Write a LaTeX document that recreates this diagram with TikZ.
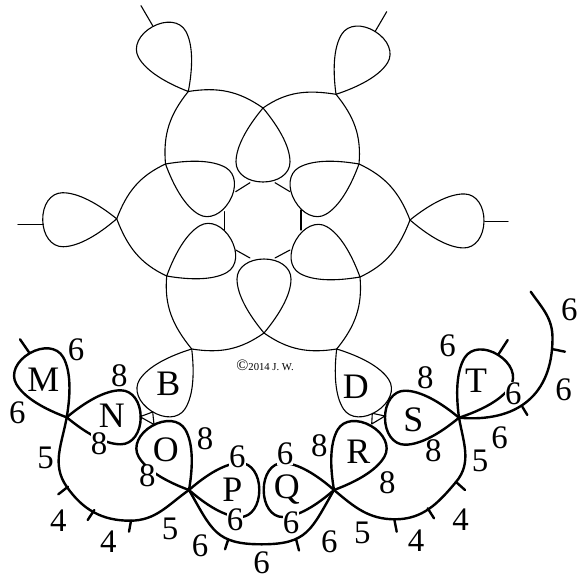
\documentclass[tikz,border=0pt]{standalone}
\usepackage{fontspec}
\setmainfont{Liberation Serif}
\newcommand{\ringdrop}[4][]{\draw[#2,shift={(#3)},rotate=#4,#1] (0,0) .. controls (18,15) and (38,27) .. (54,27)
  .. controls (66,27) and (74,15) .. (74,0) .. controls (74,-15) and (66,-27) .. (54,-27)
  .. controls (38,-27) and (18,-15) .. (0,0);}
\begin{document}
\begin{tikzpicture}[x=1bp,y=-1bp,line join=round,line cap=round]
\tikzstyle{fine}=[line width=1.1bp,black]
\tikzstyle{bold}=[line width=2.4bp,black]
\tikzstyle{letter}=[inner sep=0pt,font=\fontsize{36}{36}\selectfont]
\tikzstyle{num}=[inner sep=0pt,font=\fontsize{33}{33}\selectfont]
\tikzstyle{gapnum}=[num,fill=white]
\useasboundingbox (0,0) rectangle (585,578);

\coordinate (jtl) at (188.3,91.5);
\coordinate (jtr) at (336,94.3);
\coordinate (jl) at (116.7,218.8);
\coordinate (jr) at (410,220);
\coordinate (jbl) at (191.7,349);
\coordinate (jbr) at (336.7,349);
\coordinate (a1) at (263,108);
\coordinate (a2) at (165.5,164);
\coordinate (a3) at (166.7,276);
\coordinate (a4) at (264,333);
\coordinate (a5) at (360,277);
\coordinate (a6) at (359,164);
\coordinate (jm) at (66.7,417.3);
\coordinate (jo) at (189,490);
\coordinate (jr2) at (334,490);
\coordinate (jt) at (459,417.7);

\ringdrop{fine}{jtl}{119}
\ringdrop{fine}{jtr}{58}
\ringdrop{fine}{jl}{181}
\ringdrop{fine}{jr}{-1}
\ringdrop{fine}{a1}{-90}
\ringdrop{fine}{a2}{-30}
\ringdrop{fine}{a3}{30}
\ringdrop{fine}{a4}{90}
\ringdrop{fine}{a5}{150}
\ringdrop{fine}{a6}{210}
\ringdrop{fine}{jbl}{237}
\ringdrop{fine}{jbr}{303}

\draw[fine] (jl) to[out=69,in=205] (a2);
\draw[fine] (jl) to[out=-69,in=155] (a3);
\draw[fine] (jtl) to[out=9,in=145] (a1);
\draw[fine] (jtl) to[out=-129,in=95] (a2);
\draw[fine] (jtr) to[out=-51,in=85] (a6);
\draw[fine] (jtr) to[out=171,in=35] (a1);
\draw[fine] (jr) to[out=249,in=25] (a5);
\draw[fine] (jr) to[out=111,in=335] (a6);
\draw[fine] (jbr) to[out=189,in=325] (a4);
\draw[fine] (jbr) to[out=51,in=275] (a5);
\draw[fine] (jbl) to[out=129,in=265] (a3);
\draw[fine] (jbl) to[out=-9,in=215] (a4);

\coordinate (h1a) at (235.7,191.7);
\coordinate (h1b) at (250,182.7);
\coordinate (h2a) at (275,182.7);
\coordinate (h2b) at (290,191.7);
\coordinate (h3a) at (224.3,211.7);
\coordinate (h3b) at (224.3,230);
\coordinate (h4a) at (235.7,250);
\coordinate (h4b) at (250,258);
\coordinate (h5a) at (275,258);
\coordinate (h5b) at (290,250);
\coordinate (h6a) at (301,210);
\coordinate (h6b) at (301,230);
\foreach \h in {h1,h2,h3,h4,h5,h6}
  \draw[fine] (\h a)--(\h b);

\coordinate (tl1) at (141,5.7);
\coordinate (tl2) at (152.7,25.7);
\coordinate (tr1) at (386.7,11.7);
\coordinate (tr2) at (375,31.7);
\coordinate (tw1) at (18,224.5);
\coordinate (tw2) at (43.3,224.5);
\coordinate (te1) at (485,221.7);
\coordinate (te2) at (508,221.7);
\foreach \h in {tl,tr,tw,te}
  \draw[fine] (\h 1)--(\h 2);

\coordinate (bt1) at (140,416.7);
\coordinate (bt2) at (152.7,412);
\coordinate (bt3) at (154,424.5);
\coordinate (dt1) at (385,416);
\coordinate (dt2) at (372.3,413.3);
\coordinate (dt3) at (371.7,424);
\draw[fine] (bt1)--(bt2)--(bt3)--(bt1);
\draw[fine] (dt1)--(dt2)--(dt3)--(dt1);

\ringdrop{bold}{jm}{120}
\ringdrop{bold}{jm}{0}
\ringdrop{bold}{jo}{120}
\ringdrop[xscale=.95]{bold}{jo}{0}
\ringdrop[xscale=.95]{bold}{jr2}{180}
\ringdrop{bold}{jr2}{60}
\ringdrop{bold}{jt}{180}
\ringdrop{bold}{jt}{58}

\coordinate (sidea) at (66.7,486.7);
\coordinate (lowa) at (130,520.7);
\coordinate (lowb) at (261.7,544.3);
\coordinate (lowc) at (395,519.3);
\coordinate (sidec) at (456,482);
\coordinate (bend) at (552.5,338);
\coordinate (chainend) at (530.7,291.7);
\draw[bold] (jm) to[out=-100,in=125] (sidea) to[out=-55,in=180] (lowa) to[out=0,in=215] (jo);
\draw[bold] (jo) to[out=-60,in=180,looseness=1.3] (lowb) to[out=0,in=240,looseness=1.3] (jr2);
\draw[bold] (jr2) to[out=-40,in=180] (lowc) to[out=0,in=230] (sidec) to[out=50,in=-80] (jt);
\draw[bold] (jt) to[out=-5,in=-90,looseness=1.2] (bend) to[out=90,in=-55] (chainend);

\coordinate (pm1) at (20,339.3);
\coordinate (pm2) at (29.5,353);
\coordinate (pa1) at (68,486.7);
\coordinate (pa2) at (58.3,494.3);
\coordinate (pb1) at (94.3,510);
\coordinate (pb2) at (87.7,520);
\coordinate (pc1) at (131,520.7);
\coordinate (pc2) at (129,531.7);
\coordinate (pd1) at (228.3,539.3);
\coordinate (pd2) at (225,549.3);
\coordinate (pe1) at (296,539);
\coordinate (pe2) at (299,550.5);
\coordinate (pf1) at (394.3,519.3);
\coordinate (pf2) at (396.7,531.7);
\coordinate (pg1) at (427.7,508.3);
\coordinate (pg2) at (434,518.3);
\coordinate (ph1) at (455.7,481.7);
\coordinate (ph2) at (465,490);
\coordinate (pi1) at (498,355);
\coordinate (pi2) at (507.7,340);
\coordinate (pj1) at (522.3,406.7);
\coordinate (pj2) at (527.3,415);
\coordinate (pk1) at (553.3,349.3);
\coordinate (pk2) at (565,351.7);
\foreach \p in {pm,pa,pb,pc,pd,pe,pf,pg,ph,pi,pj,pk}
  \draw[bold] (\p1)--(\p2);

\node[num] (m1) at (76,349.3) {6};
\node[num] (m2) at (17.3,412.7) {6};
\node[num] (n1) at (119.3,376) {8};
\node[gapnum] (n2) at (99,443.3) {8};
\node[num] (o1) at (205,438.3) {8};
\node[gapnum] (o2) at (147.3,475.7) {8};
\node[gapnum] (p1) at (237.3,456.7) {6};
\node[gapnum] (p2) at (235,520) {6};
\node[gapnum] (q1) at (285,454) {6};
\node[gapnum] (q2) at (291,522.7) {6};
\node[num] (r1) at (319.3,445.7) {8};
\node[num] (r2) at (387.3,482.7) {8};
\node[num] (s1) at (425.3,377.3) {8};
\node[num] (s2) at (433.3,451) {8};
\node[num] (t1) at (447.7,345.7) {6};
\node[gapnum] (t2) at (513.3,393.3) {6};
\node[num] (c1) at (45.7,457.7) {5};
\node[num] (c2) at (58.3,520.7) {4};
\node[num] (c3) at (108.3,541.7) {4};
\node[num] (c4) at (170,529.3) {5};
\node[num] (d1) at (200,545.7) {6};
\node[num] (d2) at (261.7,562.5) {6};
\node[num] (d3) at (329.3,541.7) {6};
\node[num] (e1) at (362.3,533.3) {5};
\node[num] (e2) at (416,541) {4};
\node[num] (e3) at (460.7,519.3) {4};
\node[num] (e4) at (480,461) {5};
\node[num] (f1) at (499.7,437.7) {6};
\node[num] (f2) at (563.7,390) {6};
\node[num] (f3) at (569.3,309.3) {6};

\node[letter] (labelM) at (43.3,380) {M};
\node[letter] (labelN) at (111.7,416) {N};
\node[letter] (labelB) at (168.3,384.3) {B};
\node[letter] (labelO) at (165.7,449.3) {O};
\node[letter] (labelP) at (232.3,490) {P};
\node[letter] (labelQ) at (286.7,490) {Q};
\node[letter] (labelR) at (358.3,451.7) {R};
\node[letter] (labelD) at (355.7,386.7) {D};
\node[letter] (labelS) at (413.3,420) {S};
\node[letter] (labelT) at (476,380.7) {T};

\node[inner sep=0pt,font=\fontsize{10.7}{11}\selectfont] (copy) at (265,365) {{\fontsize{16}{16}\selectfont ©}2014 J. W.};
\end{tikzpicture}
\end{document}
